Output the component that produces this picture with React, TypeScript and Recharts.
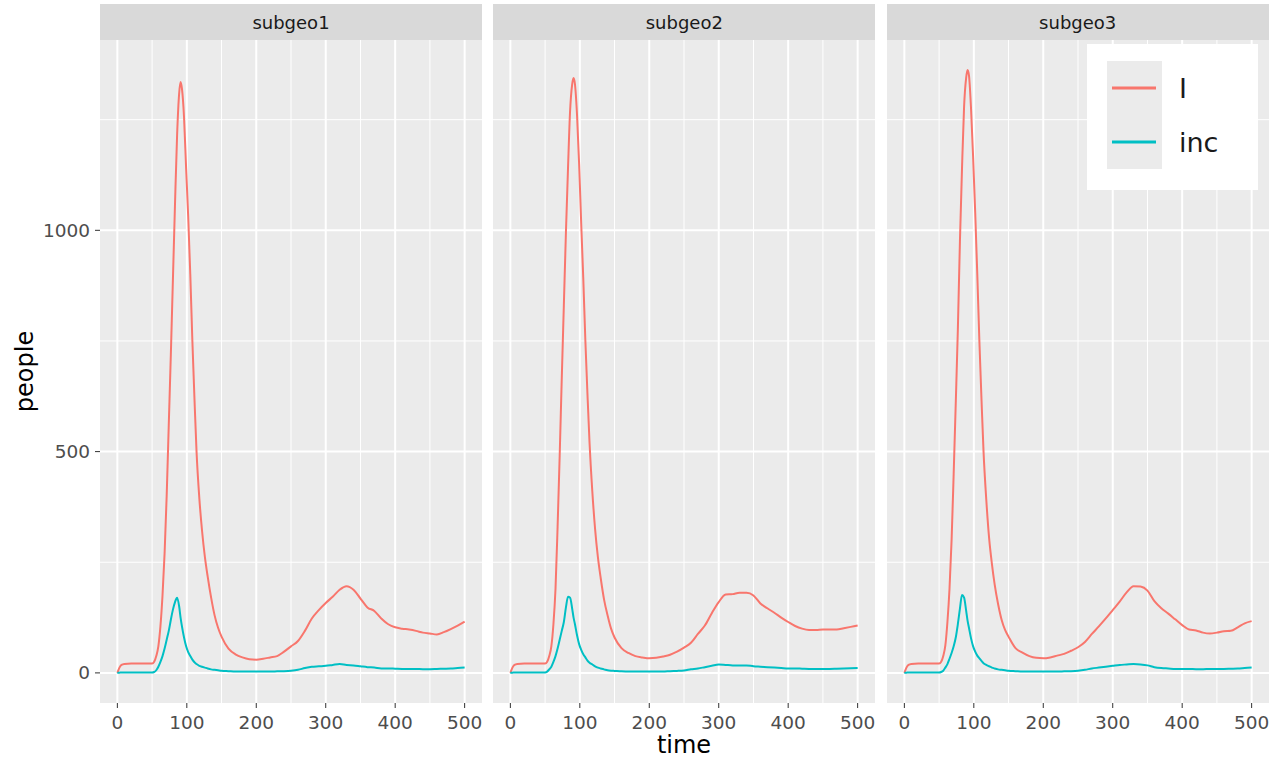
import React from 'react';
import { LineChart, Line, XAxis, YAxis, ReferenceLine } from 'recharts';

const T = [0, 3, 6, 10,
  20, 30, 40, 50,
  53, 56, 59, 62, 65, 68, 71, 74, 77, 80, 83, 86, 89,
  91, 93, 96, 99, 102, 105, 108, 111, 114,
  118, 122, 126, 130, 135, 140, 145, 150,
  160, 170, 180, 190, 200, 210, 220, 230, 240, 250,
  260, 270, 280, 290, 300, 310, 320, 330, 340, 350,
  360, 370, 380, 390, 400, 410, 420, 430, 440, 450,
  460, 470, 480, 490, 500];

const I1 = [0, 12, 18, 20,
  21, 21, 21, 21,
  25, 38, 60, 105, 175, 270, 400, 560, 720, 890, 1060, 1215, 1310,
  1335, 1320, 1255, 1140, 1030, 900, 750, 620, 500,
  395, 320, 262, 218, 170, 130, 102, 82,
  55, 42, 35, 31, 30, 32, 35, 38, 48, 60,
  72, 95, 123, 142, 158, 172, 188, 196, 188, 168,
  148, 140, 123, 110, 103, 100, 98, 95, 91, 89,
  87, 92, 99, 107, 116];

const inc1 = [0, 0.5, 1, 1,
  1, 1, 1, 1,
  2, 6, 14, 25, 38, 55, 75, 95, 120, 143, 160, 170, 150,
  125, 105, 80, 60, 47, 38, 30, 24, 20,
  16, 14, 12, 10, 8, 7, 6, 5,
  4, 3, 3, 3, 3, 3, 3, 3.5, 4, 5,
  7, 11, 14, 15, 16, 18, 20, 18, 17, 15,
  13, 12, 10, 10, 9.5, 9, 9, 9, 8.5, 8.5,
  9, 9.5, 10, 11, 12];

const I2 = [0, 12, 18, 20,
  21, 21, 21, 21,
  25, 38, 60, 110, 190, 330, 490, 665, 830, 995, 1140, 1270, 1330,
  1344, 1330, 1260, 1150, 1015, 890, 750, 630, 520,
  410, 325, 262, 215, 165, 130, 100, 80,
  56, 45, 38, 35, 33, 34, 37, 41, 48, 57,
  68, 88, 107, 135, 160, 177, 178, 181, 181, 175,
  157, 146, 136, 125, 115, 106, 100, 97, 97, 98,
  98, 98, 101, 104, 107];

const inc2 = [0, 0.5, 1, 1,
  1, 1, 1, 1,
  3, 8, 14, 25, 38, 55, 75, 95, 115, 148, 172, 170, 145,
  125, 110, 85, 65, 52, 42, 35, 28, 23,
  19, 15, 12, 10, 8, 6, 5, 4.5,
  3.5, 3, 3, 3, 3, 3, 3, 4, 4.5, 5.5,
  8, 10, 13, 16, 19, 18, 17, 17, 17, 15,
  14, 13, 12, 11, 10, 10, 9.5, 9, 9, 9,
  9, 9.5, 10, 10.5, 11];

const I3 = [0, 12, 18, 20,
  21, 21, 21, 21,
  25, 38, 62, 115, 190, 300, 450, 610, 775, 975, 1140, 1280, 1345,
  1362, 1350, 1275, 1165, 1040, 900, 750, 620, 500,
  390, 305, 247, 200, 155, 120, 97, 82,
  56, 46, 38, 34, 33, 35, 39, 43, 50, 58,
  70, 88, 105, 123, 142, 161, 182, 196, 195, 186,
  162, 146, 134, 121, 108, 98, 96, 91, 89, 91,
  94, 95, 103, 112, 117];

const inc3 = [0, 0.5, 1, 1,
  1, 1, 1, 1,
  2, 5, 12, 20, 32, 45, 60, 80, 110, 145, 176, 170, 140,
  118, 102, 78, 60, 48, 39, 33, 27, 22,
  18, 15, 12, 10, 8, 7, 6, 5,
  4, 3, 3, 3, 3, 3, 3, 3.5, 4, 5,
  7, 10, 12, 14, 16, 18, 19, 20, 19, 17,
  13, 11, 10, 9, 9, 9, 8.5, 8.5, 9, 9,
  9, 9.5, 10, 11, 12];

const panelNames = ['subgeo1', 'subgeo2', 'subgeo3'];
const seriesNames = ['I', 'inc'];
const xTicks = [0, 100, 200, 300, 400, 500];
const xGrid = [0, 50, 100, 150, 200, 250, 300, 350, 400, 450, 500];
const yTicks = [0, 500, 1000];
const yGrid = [0, 250, 500, 750, 1000, 1250];

const RED = '#F8766D';
const TEAL = '#00BFC4';
const FONT = '"DejaVu Sans", sans-serif';

const panelLefts = [100, 493.3, 886.7];
const PW = 382;
const PTOP = 40;
const PBOT = 703;
const TICK_FS = 18.5;

function Panel({ left, label, I, inc, showY }: any) {
  const data = T.map((t, i) => ({ t, I: I[i], inc: inc[i] }));
  const yw = showY ? 100 : 0;
  return (
    <>
      <div style={{ position: 'absolute', left, top: 4, width: PW, height: 36, background: '#D9D9D9', display: 'flex', alignItems: 'center', justifyContent: 'center', fontSize: 18, color: '#1A1A1A' }}>{label}</div>
      <div style={{ position: 'absolute', left, top: PTOP, width: PW, height: PBOT - PTOP, background: '#EBEBEB' }} />
      <div style={{ position: 'absolute', left: left - yw, top: 0 }}>
        <LineChart width={PW + yw} height={758} data={data} margin={{ top: PTOP, right: 0, bottom: 0, left: 0 }}>
          <XAxis dataKey="t" type="number" domain={[-25, 525]} ticks={xTicks} height={758 - PBOT} tickSize={5} tickMargin={8}
            axisLine={false} tickLine={{ stroke: '#333333' }} tick={{ fill: '#4D4D4D', fontSize: TICK_FS }} allowDataOverflow interval={0} />
          <YAxis type="number" domain={[-68, 1430]} ticks={yTicks} width={100} hide={!showY} tickSize={5} tickMargin={5}
            axisLine={false} tickLine={{ stroke: '#333333' }} tick={{ fill: '#4D4D4D', fontSize: TICK_FS }} allowDataOverflow interval={0} />
          {yGrid.map(v => (
            <ReferenceLine key={'y' + v} y={v} stroke="#FFFFFF" strokeWidth={v % 500 === 0 ? 2 : 1} />
          ))}
          {xGrid.map(v => (
            <ReferenceLine key={'x' + v} x={v} stroke="#FFFFFF" strokeWidth={v % 100 === 0 ? 2 : 1} />
          ))}
          <Line dataKey="I" type="monotone" stroke={RED} strokeWidth={2} dot={false} isAnimationActive={false} />
          <Line dataKey="inc" type="monotone" stroke={TEAL} strokeWidth={2} dot={false} isAnimationActive={false} />
        </LineChart>
      </div>
    </>
  );
}

export default function App() {
  const series = [[I1, inc1], [I2, inc2], [I3, inc3]];
  return (
    <div style={{ position: 'absolute', left: 0, top: 0, width: 1270, height: 758, background: '#FFFFFF', fontFamily: FONT, overflow: 'hidden' }}>
      {panelNames.map((n, i) => (
        <Panel key={n} left={panelLefts[i]} label={n} I={series[i][0]} inc={series[i][1]} showY={i === 0} />
      ))}
      <svg width={1270} height={758} style={{ position: 'absolute', left: 0, top: 0, pointerEvents: 'none' }}>
        <text x={684} y={745} textAnchor="middle" dominantBaseline="central" fontSize={24} fill="#000000" fontFamily={FONT}>time</text>
        <text x={25} y={371.5} textAnchor="middle" dominantBaseline="central" fontSize={24} fill="#000000" fontFamily={FONT} transform="rotate(-90 25 371.5)">people</text>
      </svg>
      <div style={{ position: 'absolute', left: 1087, top: 44, width: 171, height: 146, background: '#FFFFFF' }}>
        <div style={{ position: 'absolute', left: 20, top: 17, width: 55, height: 108, background: '#EBEBEB' }} />
        <svg width={171} height={146} style={{ position: 'absolute', left: 0, top: 0 }}>
          {seriesNames.map((s, i) => (
            <g key={s}>
              <line x1={25} x2={69} y1={44 + i * 54} y2={44 + i * 54} stroke={i === 0 ? RED : TEAL} strokeWidth={3} />
              <text x={92} y={44 + i * 54} dominantBaseline="central" fontSize={27} fill="#1A1A1A" fontFamily={FONT}>{s}</text>
            </g>
          ))}
        </svg>
      </div>
    </div>
  );
}
